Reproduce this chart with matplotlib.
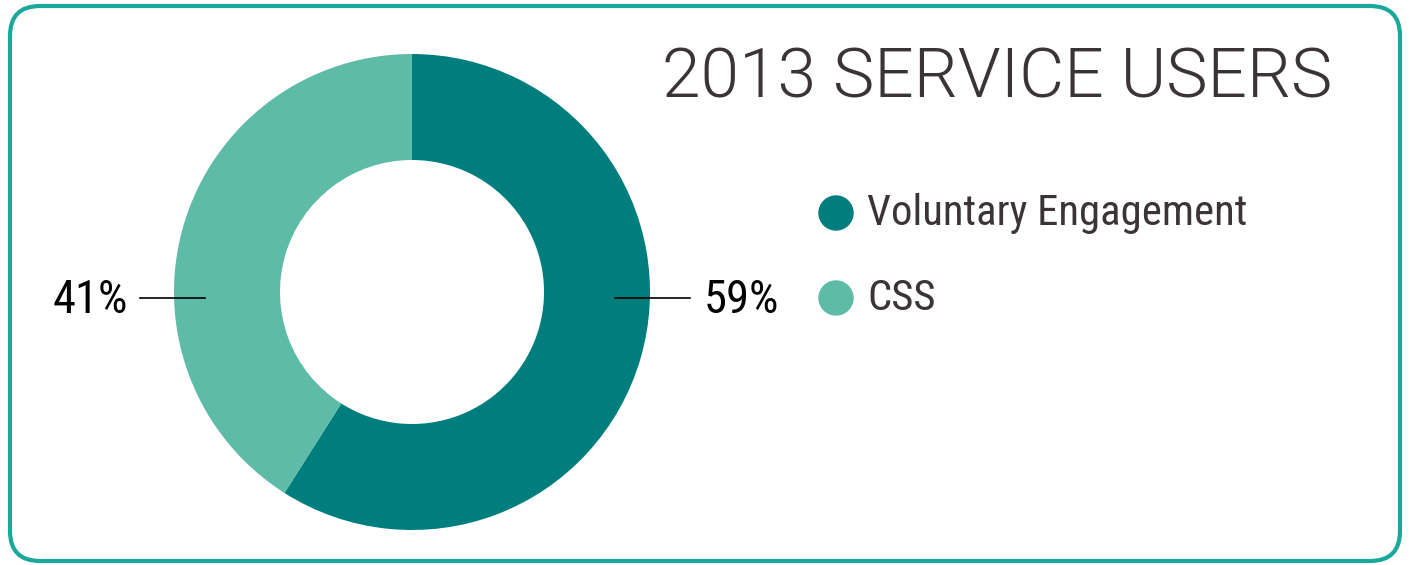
import matplotlib
matplotlib.use("Agg")
import matplotlib.pyplot as plt
from matplotlib.patches import FancyBboxPatch, Circle

# chart data
categories = ["Voluntary Engagement", "CSS"]
shares = [59, 41]
colors = ["#007d7d", "#5dbba7"]
title = "2013 SERVICE USERS"

W, H = 1410, 565
fig = plt.figure(figsize=(W / 100, H / 100), dpi=100)
fig.patch.set_facecolor("white")

# frame in pixel coordinates
bg = fig.add_axes([0, 0, 1, 1])
bg.set_xlim(0, W)
bg.set_ylim(H, 0)
bg.axis("off")
frame = FancyBboxPatch((10, 6), 1390, 555, boxstyle="round,pad=0,rounding_size=30",
                       fill=False, edgecolor="#1aa89c", linewidth=3)
bg.add_patch(frame)

# donut
cx, cy, r_out, r_in = 412, 292, 238, 132
ax = fig.add_axes([(cx - r_out) / W, (H - cy - r_out) / H, 2 * r_out / W, 2 * r_out / H])
ax.pie(shares, colors=colors, startangle=90, counterclock=False, radius=1,
       wedgeprops=dict(width=(r_out - r_in) / r_out, linewidth=0))
ax.set_xlim(-1, 1)
ax.set_ylim(-1, 1)
ax.axis("off")

# overlay for labels, leader lines, title and legend
top = fig.add_axes([0, 0, 1, 1])
top.set_xlim(0, W)
top.set_ylim(H, 0)
top.axis("off")
top.patch.set_alpha(0)

top.plot([615, 690], [298, 298], color="black", lw=1.2)
top.plot([140, 205], [298, 298], color="black", lw=1.2)
top.text(704, 300, f"{shares[0]}%", fontsize=33.5, family="Roboto Condensed",
         va="center", ha="left", color="black")
top.text(128, 300, f"{shares[1]}%", fontsize=33.5, family="Roboto Condensed",
         va="center", ha="right", color="black")

top.text(662, 79, title, fontsize=50, family="Roboto", fontweight=300,
         color="#3a3439", va="center", ha="left")

for i, (name, col) in enumerate(zip(categories, colors)):
    y = 213 + 85 * i
    top.add_patch(Circle((836, y), 17, color=col))
    top.text(867, y + 1, name, fontsize=30.8, family="Roboto Condensed",
             color="#3a3439", va="center", ha="left")

fig.savefig("out.png", dpi=100, facecolor="white")
